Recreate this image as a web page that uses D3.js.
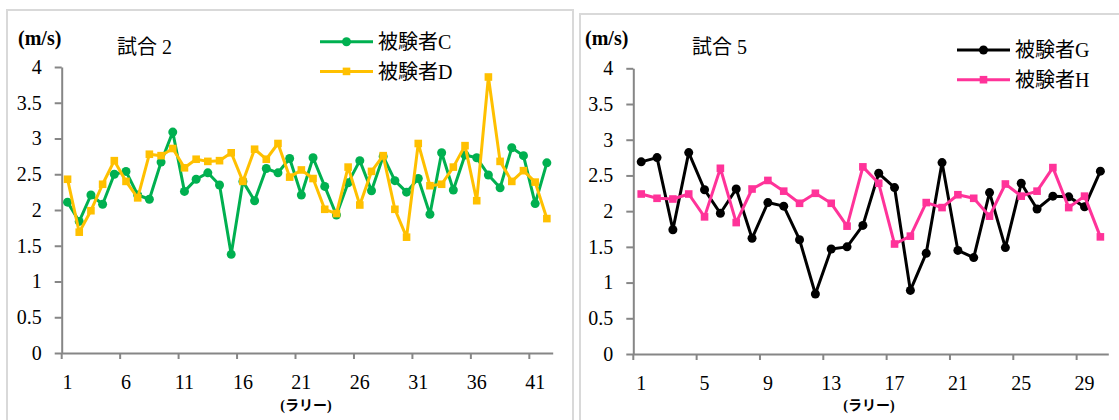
<!DOCTYPE html>
<html>
<head>
<meta charset="utf-8">
<script src="https://cdn.jsdelivr.net/npm/d3@7/dist/d3.min.js"></script>
<style>
  html, body { margin: 0; padding: 0; background: #fff; }
  svg { display: block; }
  text { font-family: "Liberation Serif", "Noto Sans CJK JP", serif; fill: #000; }
</style>
</head>
<body>
<svg id="chart" width="1119" height="420"></svg>
<script>
// Match 2: rally speeds of players C and D
const rallies2 = d3.range(1, 43);
const playerC = [2.11, 1.84, 2.21, 2.08, 2.50, 2.54, 2.21, 2.15, 2.67, 3.09,
                 2.26, 2.43, 2.52, 2.35, 1.38, 2.40, 2.13, 2.58, 2.52, 2.72,
                 2.21, 2.73, 2.33, 1.93, 2.38, 2.69, 2.27, 2.75, 2.41, 2.25,
                 2.44, 1.94, 2.80, 2.28, 2.77, 2.73, 2.49, 2.31, 2.87, 2.76,
                 2.09, 2.66];
const playerD = [2.43, 1.69, 1.99, 2.36, 2.69, 2.40, 2.17, 2.78, 2.76, 2.86,
                 2.59, 2.71, 2.68, 2.69, 2.80, 2.40, 2.85, 2.71, 2.93, 2.46,
                 2.56, 2.44, 2.01, 1.95, 2.60, 2.07, 2.54, 2.76, 2.01, 1.62,
                 2.93, 2.34, 2.36, 2.60, 2.90, 2.13, 3.86, 2.68, 2.40, 2.55,
                 2.39, 1.88];

// Match 5: rally speeds of players G and H
const rallies5 = d3.range(1, 31);
const playerG = [2.69, 2.75, 1.74, 2.82, 2.30, 1.97, 2.31, 1.62, 2.12, 2.07,
                 1.60, 0.84, 1.47, 1.50, 1.80, 2.53, 2.33, 0.89, 1.41, 2.68,
                 1.45, 1.35, 2.26, 1.49, 2.39, 2.03, 2.21, 2.20, 2.06, 2.56];
const playerH = [2.24, 2.18, 2.17, 2.24, 1.92, 2.60, 1.84, 2.31, 2.43, 2.28,
                 2.11, 2.25, 2.11, 1.79, 2.62, 2.39, 1.54, 1.65, 2.12, 2.05,
                 2.23, 2.18, 1.93, 2.38, 2.21, 2.28, 2.61, 2.05, 2.21, 1.64];

const yTicks = [0, 0.5, 1, 1.5, 2, 2.5, 3, 3.5, 4];
const xLabels2 = [1, 6, 11, 16, 21, 26, 31, 36, 41];
const xLabels5 = [1, 5, 9, 13, 17, 21, 25, 29];

const svg = d3.select("#chart");
const axisColor = "#868686";
const frameColor = "#d9d9d9";

function drawPanel(cfg) {
  const g = svg.append("g");

  // panel frame
  g.append("rect")
    .attr("x", cfg.frame[0]).attr("y", cfg.frame[1])
    .attr("width", cfg.frame[2]).attr("height", cfg.frame[3])
    .attr("fill", "#fff").attr("stroke", frameColor).attr("stroke-width", 2);

  const x = d3.scaleBand().domain(cfg.cats).range([cfg.left, cfg.right]).padding(0);
  const y = d3.scaleLinear().domain([0, 4]).range([cfg.bottom, cfg.top]);

  // y axis
  const ya = g.append("g")
    .attr("transform", `translate(${cfg.left},0)`)
    .call(d3.axisLeft(y).tickValues(yTicks).tickFormat(d => String(d))
      .tickSizeInner(7).tickSizeOuter(0).tickPadding(13));
  ya.selectAll("path, line").attr("stroke", axisColor).attr("stroke-width", 2);
  ya.selectAll("text").attr("font-size", 20).attr("fill", "#000")
    .attr("font-family", "Liberation Serif, serif");

  // x axis: labels centred in categories, ticks on category boundaries
  const xa = g.append("g")
    .attr("transform", `translate(0,${cfg.bottom})`)
    .call(d3.axisBottom(x).tickValues(cfg.xLabels).tickSizeInner(0).tickSizeOuter(0).tickPadding(22));
  xa.select("path").attr("stroke", axisColor).attr("stroke-width", 2);
  xa.selectAll("text").attr("font-size", 20).attr("fill", "#000")
    .attr("font-family", "Liberation Serif, serif");
  g.selectAll(".xtick").data(cfg.xLabels).enter().append("line")
    .attr("x1", d => x(d)).attr("x2", d => x(d))
    .attr("y1", cfg.bottom).attr("y2", cfg.bottom + 6)
    .attr("stroke", axisColor).attr("stroke-width", 2);

  // unit and title
  g.append("text").attr("x", cfg.unitX).attr("y", 45)
    .attr("font-size", 20).attr("font-weight", "bold").text("(m/s)");
  g.append("text").attr("x", cfg.titleX).attr("y", 54)
    .attr("font-size", 20).text(cfg.title);
  g.append("text").attr("x", cfg.xTitleX).attr("y", cfg.xTitleY)
    .attr("text-anchor", "middle").attr("font-size", 14).attr("font-weight", "bold")
    .text("(ラリー)");

  const line = d3.line().x((d, i) => x(cfg.cats[i]) + x.bandwidth() / 2).y(d => y(d));

  cfg.series.forEach(s => {
    g.append("path").datum(s.values)
      .attr("d", line).attr("fill", "none")
      .attr("stroke", s.color).attr("stroke-width", 3).attr("stroke-linejoin", "round");
    const pts = g.append("g");
    s.values.forEach((v, i) => {
      const cx = x(cfg.cats[i]) + x.bandwidth() / 2, cy = y(v);
      if (s.marker === "circle") {
        pts.append("circle").attr("cx", cx).attr("cy", cy).attr("r", 4.5).attr("fill", s.color);
      } else {
        pts.append("rect").attr("x", cx - 3.8).attr("y", cy - 3.8)
          .attr("width", 7.6).attr("height", 7.6).attr("fill", s.color);
      }
    });
  });

  // legend
  cfg.series.forEach((s, i) => {
    const ly = cfg.legend[1] + i * 29.7;
    const lx = cfg.legend[0];
    g.append("line").attr("x1", lx).attr("x2", lx + 53).attr("y1", ly).attr("y2", ly)
      .attr("stroke", s.color).attr("stroke-width", 3);
    if (s.marker === "circle") {
      g.append("circle").attr("cx", lx + 26.5).attr("cy", ly).attr("r", 4.5).attr("fill", s.color);
    } else {
      g.append("rect").attr("x", lx + 26.5 - 3.8).attr("y", ly - 3.8)
        .attr("width", 7.6).attr("height", 7.6).attr("fill", s.color);
    }
    g.append("text").attr("x", lx + 58).attr("y", ly).attr("dy", "0.36em")
      .attr("font-size", 20).text(s.name);
  });
}

drawPanel({
  frame: [7, 10, 566, 420],
  cats: rallies2, xLabels: xLabels2,
  left: 61.7, right: 552.7, top: 67, bottom: 353,
  unitX: 18, titleX: 117, title: "試合 2",
  xTitleX: 306, xTitleY: 410,
  legend: [320, 41.7],
  series: [
    { name: "被験者C", values: playerC, color: "#00B050", marker: "circle" },
    { name: "被験者D", values: playerD, color: "#FFC000", marker: "square" }
  ]
});

drawPanel({
  frame: [580, 14, 560, 420],
  cats: rallies5, xLabels: xLabels5,
  left: 633.3, right: 1108.3, top: 68.3, bottom: 354,
  unitX: 585, titleX: 692, title: "試合 5",
  xTitleX: 869, xTitleY: 410,
  legend: [957, 50],
  series: [
    { name: "被験者G", values: playerG, color: "#000000", marker: "circle" },
    { name: "被験者H", values: playerH, color: "#FF3399", marker: "square" }
  ]
});
</script>
</body>
</html>
